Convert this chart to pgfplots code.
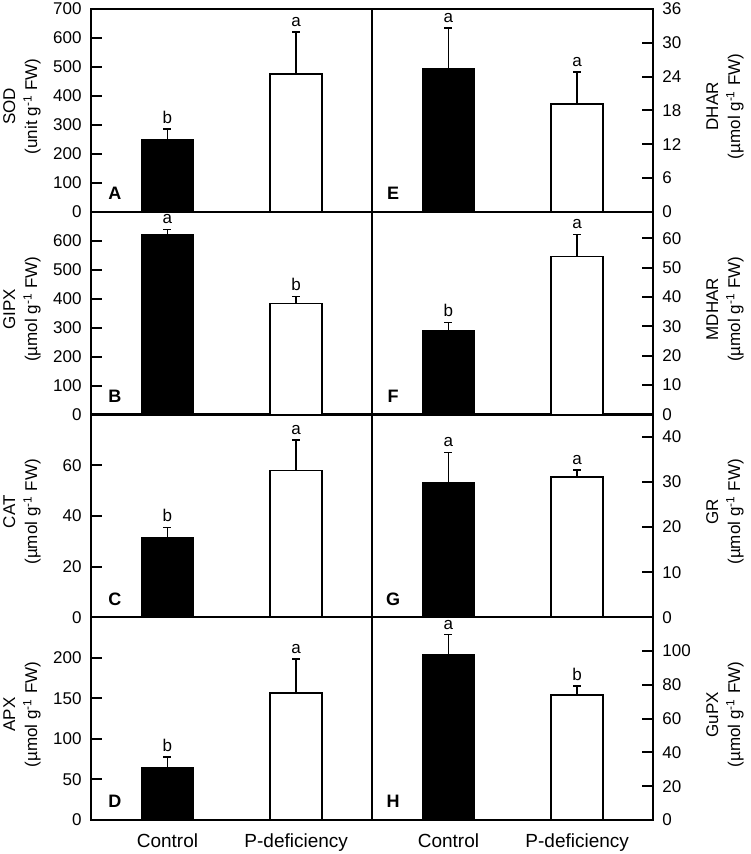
\documentclass[border=0pt]{standalone}
\usepackage{pgfplots}
\pgfplotsset{compat=1.18}
\usepackage{fontspec}
\setmainfont{Liberation Sans}

\pgfplotsset{
 panel/.style={
  scale only axis, width=140.5pt, height=101.375pt,
  anchor=south west, clip=false,
  xmin=0.406, xmax=2.589, ymin=0,
  axis line style={line width=1pt},
  every tick/.style={line width=1pt, black},
  tick align=inside, major tick length=5.5pt,
  xtick=\empty,
  /pgf/number format/assume math mode=true,
  yticklabel style={font=\fontsize{8.5}{10}\selectfont, inner sep=4.5pt},
 },
 leftpanel/.style={panel, ytick pos=left,
  every axis y label/.style={at={(rel axis cs:-0.2456,0.52)}, rotate=90, anchor=center,
    align=center, font=\fontsize{8.5}{11}\selectfont}},
 rightpanel/.style={panel, ytick pos=right, yticklabel pos=right,
  every axis y label/.style={at={(rel axis cs:1.256,0.52)}, rotate=90, anchor=center,
    align=center, font=\fontsize{8.5}{11}\selectfont}},
 bottompanel/.style={xtick={1,2}, xticklabels={Control,P-deficiency},
  major x tick style={draw=none},
  xticklabel style={font=\fontsize{9.5}{11}\selectfont, yshift=-3.5pt}},
 ctrl/.style={ybar, bar shift=0pt, bar width=26pt, fill=black, draw=black, line width=0.75pt,
  error bars/.cd, y dir=plus, y explicit,
  error bar style={line width=0.75pt, black},
  error mark options={rotate=90, mark size=2pt, line width=0.75pt, black}},
 pdef/.style={ybar, bar shift=0pt, bar width=26pt, fill=white, draw=black, line width=0.75pt,
  error bars/.cd, y dir=plus, y explicit,
  error bar style={line width=0.75pt, black},
  error mark options={rotate=90, mark size=2pt, line width=0.75pt, black}},
 letters/.style={draw=none, mark=none, nodes near coords, point meta=explicit symbolic,
  nodes near coords style={anchor=south, inner sep=0pt, yshift=2.5pt, font=\fontsize{8.5}{10}\selectfont, text=black}},
}
\tikzset{panellabel/.style={font=\fontsize{9}{10}\selectfont\bfseries, anchor=center}}

\begin{document}
\begin{tikzpicture}
% ---------- A: SOD ----------
\begin{axis}[leftpanel, at={(45.5pt,321.125pt)}, ymax=700, ytick={0,100,...,700},
  ylabel={SOD\\(unit g\textsuperscript{-1} FW)}]
\addplot[ctrl] coordinates {(1,250) +- (0,36)};
\addplot[pdef] coordinates {(2,475) +- (0,146)};
\addplot[letters] coordinates {(1,286) [b] (2,621) [a]};
\node[panellabel] at (rel axis cs:0.085,0.09) {A};
\end{axis}
% ---------- B: GIPX ----------
\begin{axis}[leftpanel, at={(45.5pt,219.75pt)}, ymax=700, ytick={0,100,...,600},
  ylabel={GIPX\\(µmol g\textsuperscript{-1} FW)}]
\addplot[ctrl] coordinates {(1,620) +- (0,19)};
\addplot[pdef] coordinates {(2,384) +- (0,24)};
\addplot[letters] coordinates {(1,639) [a] (2,408) [b]};
\node[panellabel] at (rel axis cs:0.085,0.09) {B};
\end{axis}
% ---------- C: CAT ----------
\begin{axis}[leftpanel, at={(45.5pt,118.375pt)}, ymax=80, ytick={0,20,40,60},
  ylabel={CAT\\(µmol g\textsuperscript{-1} FW)}]
\addplot[ctrl] coordinates {(1,31.2) +- (0,4.3)};
\addplot[pdef] coordinates {(2,57.9) +- (0,12.1)};
\addplot[letters] coordinates {(1,35.5) [b] (2,70) [a]};
\node[panellabel] at (rel axis cs:0.085,0.09) {C};
\end{axis}
% ---------- D: APX ----------
\begin{axis}[leftpanel, bottompanel, at={(45.5pt,17pt)}, ymax=250, ytick={0,50,...,200},
  ylabel={APX\\(µmol g\textsuperscript{-1} FW)}]
\addplot[ctrl] coordinates {(1,65) +- (0,12.7)};
\addplot[pdef] coordinates {(2,156.6) +- (0,42.1)};
\addplot[letters] coordinates {(1,77.7) [b] (2,198.7) [a]};
\node[panellabel] at (rel axis cs:0.085,0.09) {D};
\end{axis}
% ---------- E: DHAR ----------
\begin{axis}[rightpanel, at={(186pt,321.125pt)}, ymax=36, ytick={0,6,...,36},
  ylabel={DHAR\\(µmol g\textsuperscript{-1} FW)}]
\addplot[ctrl] coordinates {(1,25.4) +- (0,7.2)};
\addplot[pdef] coordinates {(2,19.1) +- (0,5.7)};
\addplot[letters] coordinates {(1,32.6) [a] (2,24.8) [a]};
\node[panellabel] at (rel axis cs:0.075,0.09) {E};
\end{axis}
% ---------- F: MDHAR ----------
\begin{axis}[rightpanel, at={(186pt,219.75pt)}, ymax=69, ytick={0,10,...,60},
  ylabel={MDHAR\\(µmol g\textsuperscript{-1} FW)}]
\addplot[ctrl] coordinates {(1,28.4) +- (0,2.9)};
\addplot[pdef] coordinates {(2,53.8) +- (0,7.5)};
\addplot[letters] coordinates {(1,31.3) [b] (2,61.3) [a]};
\node[panellabel] at (rel axis cs:0.075,0.09) {F};
\end{axis}
% ---------- G: GR ----------
\begin{axis}[rightpanel, at={(186pt,118.375pt)}, ymax=45, ytick={0,10,...,40},
  ylabel={GR\\(µmol g\textsuperscript{-1} FW)}]
\addplot[ctrl] coordinates {(1,29.9) +- (0,6.7)};
\addplot[pdef] coordinates {(2,31.1) +- (0,1.6)};
\addplot[letters] coordinates {(1,36.6) [a] (2,32.7) [a]};
\node[panellabel] at (rel axis cs:0.075,0.09) {G};
\end{axis}
% ---------- H: GuPX ----------
\begin{axis}[rightpanel, bottompanel, at={(186pt,17pt)}, ymax=120, ytick={0,20,...,100},
  ylabel={GuPX\\(µmol g\textsuperscript{-1} FW)}]
\addplot[ctrl] coordinates {(1,97.8) +- (0,11.9)};
\addplot[pdef] coordinates {(2,73.9) +- (0,5.3)};
\addplot[letters] coordinates {(1,109.7) [a] (2,79.2) [b]};
\node[panellabel] at (rel axis cs:0.075,0.09) {H};
\end{axis}
\pgfresetboundingbox
\useasboundingbox (0,0) rectangle (375pt,427pt);
\end{tikzpicture}
\end{document}
